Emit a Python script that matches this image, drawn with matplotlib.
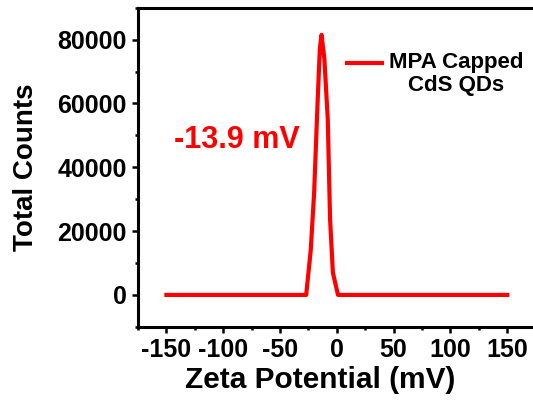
import matplotlib
matplotlib.use("Agg")
import matplotlib.pyplot as plt
from matplotlib.ticker import MultipleLocator

plt.rcParams["font.family"] = ["Liberation Sans", "DejaVu Sans"]
plt.rcParams["font.weight"] = "bold"
plt.rcParams["axes.unicode_minus"] = False

# zeta potential distribution
zeta_mv = [-150, -27, -23, -20, -17, -15, -13.5, -11, -8, -6, -3.5, 1, 150]
counts = [0, 0, 14000, 32000, 60000, 77000, 81500, 74000, 55000, 24000, 7000, 0, 0]
series_name = "MPA Capped\nCdS QDs"
peak_label = "-13.9 mV"

fig = plt.figure(figsize=(5.33, 4.04), dpi=100)
ax = fig.add_axes([0.259, 0.191, 0.746, 0.790])

ax.plot(zeta_mv, counts, color="#ff0000", lw=3)

ax.set_xlim(-175, 175)
ax.set_ylim(-10000, 90000)
ax.xaxis.set_major_locator(MultipleLocator(50))
ax.xaxis.set_minor_locator(MultipleLocator(25))
ax.yaxis.set_major_locator(MultipleLocator(20000))
ax.yaxis.set_minor_locator(MultipleLocator(10000))
ax.tick_params(which="major", direction="out", length=4.5, width=1.8, labelsize=18)
ax.tick_params(which="minor", direction="out", length=2.5, width=1.8)
for lab in ax.get_xticklabels() + ax.get_yticklabels():
    lab.set_fontweight("bold")
ax.spines["right"].set_visible(False)
for s in ["left", "bottom", "top"]:
    ax.spines[s].set_linewidth(2.2)

ax.set_xlabel("Zeta Potential (mV)", fontsize=21.5, fontweight="bold")
ax.set_ylabel("Total Counts", fontsize=20, fontweight="bold")
ax.xaxis.set_label_coords(0.458, -0.123)
ax.yaxis.set_label_coords(-0.248, 0.50)

# legend sample line and label
ax.plot([0.526, 0.614], [0.827, 0.827], transform=ax.transAxes, color="#ff0000", lw=3)
ax.text(0.80, 0.792, series_name, transform=ax.transAxes, ha="center", va="center",
        multialignment="center", fontsize=16, fontweight="bold", linespacing=1.1)

ax.text(-88, 48500, peak_label, color="#ff0000", ha="center", va="center",
        fontsize=22, fontweight="bold")

fig.savefig("out.png", dpi=100)
